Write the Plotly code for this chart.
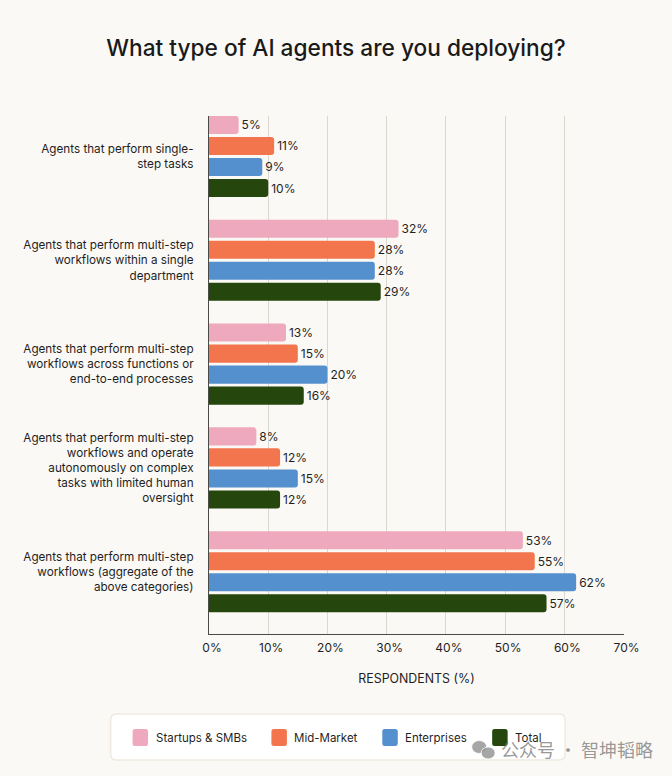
import plotly.graph_objects as go

categories = [
    "Agents that perform single-<br>step tasks",
    "Agents that perform multi-step<br>workflows within a single<br>department",
    "Agents that perform multi-step<br>workflows across functions or<br>end-to-end processes",
    "Agents that perform multi-step<br>workflows and operate<br>autonomously on complex<br>tasks with limited human<br>oversight",
    "Agents that perform multi-step<br>workflows (aggregate of the<br>above categories)",
]
startups = [5, 32, 13, 8, 53]
mid_market = [11, 28, 15, 12, 55]
enterprises = [9, 28, 20, 15, 62]
total = [10, 29, 16, 12, 57]
tick_values = [0, 10, 20, 30, 40, 50, 60, 70]

W, H = 672, 776
LEFT, RIGHT, TOP, BOTTOM = 208.5, 624, 116, 634
FONT = "Inter, Lato, sans-serif"
INK = "#1f1f1f"
BG = "#FBF9F5"

series = [
    ("Startups & SMBs", startups, "#EEA9BF"),
    ("Mid-Market", mid_market, "#F2754D"),
    ("Enterprises", enterprises, "#5590CE"),
    ("Total", total, "#25470E"),
]

fig = go.Figure()
for name, values, color in series:
    fig.add_trace(go.Bar(
        name=name, y=categories, x=values, orientation="h",
        marker=dict(color=color, line_width=0, cornerradius=3),
        text=[f"{v}%" for v in values], textposition="outside",
        textfont=dict(family=FONT, size=12, color=INK),
        cliponaxis=False, showlegend=False,
    ))


# Paper coordinates are relative to the plot area, so page pixels are converted here
def px(x):
    return (x - LEFT) / (RIGHT - LEFT)


def py(y):
    return (BOTTOM - y) / (BOTTOM - TOP)


def rounded(x0, y0, x1, y1, r):
    """SVG path of a rounded rectangle, from page pixels to paper coordinates."""
    k = [
        ("M", x0 + r, y0), ("L", x1 - r, y0), ("Q", x1, y0, x1, y0 + r),
        ("L", x1, y1 - r), ("Q", x1, y1, x1 - r, y1), ("L", x0 + r, y1),
        ("Q", x0, y1, x0, y1 - r), ("L", x0, y0 + r), ("Q", x0, y0, x0 + r, y0),
    ]
    parts = []
    for seg in k:
        pts = seg[1:]
        coords = " ".join(
            f"{px(pts[i]):.5f},{py(pts[i + 1]):.5f}" for i in range(0, len(pts), 2)
        )
        parts.append(f"{seg[0]} {coords}")
    return " ".join(parts) + " Z"


shapes = [dict(
    type="path", xref="paper", yref="paper",
    path=rounded(110, 714, 565, 760, 6),
    fillcolor="#FFFFFF", line=dict(color="#EFE9E0", width=1.5),
)]
annotations = []

# Key below the chart: swatch plus label for each series
key_x = [132, 271, 382, 492]
for (name, _, color), x in zip(series, key_x):
    shapes.append(dict(
        type="path", xref="paper", yref="paper",
        path=rounded(x, 729, x + 15.5, 746, 2.5),
        fillcolor=color, line_width=0,
    ))
    annotations.append(dict(
        text=name, xref="paper", yref="paper", x=px(x + 21), y=py(738),
        xanchor="left", yanchor="middle", showarrow=False,
        font=dict(family=FONT, size=11.5, color=INK),
    ))

# Account mark in the lower right corner
for cx, cy, rx, ry in [(479, 747, 7.5, 6.5), (488, 753, 7, 6)]:
    shapes.append(dict(
        type="circle", xref="paper", yref="paper",
        x0=px(cx - rx), x1=px(cx + rx), y0=py(cy + ry), y1=py(cy - ry),
        fillcolor="rgba(150,150,150,0.85)", line=dict(color="#FFFFFF", width=0.8),
    ))
annotations.append(dict(
    text="公众号 · 智坤韬略", xref="paper", yref="paper", x=px(499), y=py(749),
    xanchor="left", yanchor="middle", showarrow=False,
    font=dict(family="Noto Sans CJK SC", size=18, color="rgba(125,125,125,0.8)"),
))

fig.update_layout(
    width=W, height=H,
    margin=dict(l=LEFT, r=W - RIGHT, t=TOP, b=H - BOTTOM, pad=0),
    paper_bgcolor=BG, plot_bgcolor=BG,
    barmode="group", bargap=0.19, bargroupgap=0.14,
    showlegend=False,
    font=dict(family=FONT, color=INK),
    title=dict(
        text="What type of AI agents are you deploying?",
        x=0.5, xanchor="center", xref="container",
        y=1 - 48 / H, yanchor="middle", yref="container",
        font=dict(family=FONT, size=22.7, color="#1a1a1a", weight=500),
    ),
    xaxis=dict(
        # A hair past 70 so the last gridline is still drawn at the plot edge
        range=[0, 70.08], tickvals=tick_values, ticktext=[f"{t}%" for t in tick_values],
        ticks="outside", ticklen=2, tickcolor="rgba(0,0,0,0)",
        ticklabelshift=3,
        tickfont=dict(family=FONT, size=12, color=INK),
        showgrid=True, gridcolor="#D9D7CE", gridwidth=1.4, zeroline=False,
        showline=True, linecolor="#4a4a46", linewidth=1.2,
        title=dict(
            text="RESPONDENTS (%)", standoff=20,
            font=dict(family=FONT, size=12.4, color=INK),
        ),
    ),
    yaxis=dict(
        type="category", categoryorder="array", categoryarray=categories,
        range=[4.6, -0.39],
        ticks="outside", ticklen=12, tickcolor="rgba(0,0,0,0)",
        tickfont=dict(family=FONT, size=11.7, color=INK),
        showgrid=False, zeroline=False,
        showline=True, linecolor="#4a4a46", linewidth=1.2,
    ),
    shapes=shapes, annotations=annotations,
)

fig.write_html("out.html", config=dict(displayModeBar=False))
